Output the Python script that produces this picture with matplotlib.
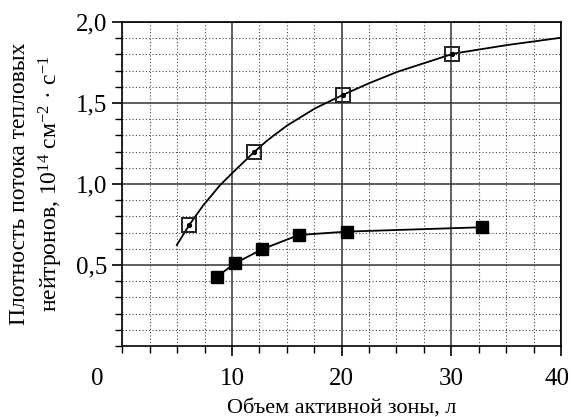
import matplotlib
matplotlib.use("Agg")
import matplotlib.pyplot as plt
from matplotlib.ticker import MultipleLocator, FixedLocator

plt.rcParams['font.family'] = ['Liberation Serif', 'DejaVu Serif']
plt.rcParams['mathtext.fontset'] = 'custom'
plt.rcParams['mathtext.rm'] = 'Liberation Serif'
plt.rcParams['mathtext.it'] = 'Liberation Serif:italic'
plt.rcParams['mathtext.bf'] = 'Liberation Serif:bold'

# Open squares (measured points, upper series)
open_x = [6.1, 12.0, 20.1, 30.1]
open_y = [0.747, 1.20, 1.55, 1.805]

# Smooth fitted curve for upper series
curve_x = [4.97, 6.1, 7.4, 8.93, 10.0, 12.0, 13.2, 15.0, 17.6, 20.2, 22.6, 25.1,
           30.2, 35.1, 40.0]
curve_y = [0.623, 0.747, 0.870, 0.994, 1.066, 1.196, 1.268, 1.36, 1.468, 1.553, 1.625,
           1.693, 1.805, 1.858, 1.903]

# Filled squares (lower series)
fill_x = [8.63, 10.27, 12.74, 16.09, 20.45, 32.8]
fill_y = [0.428, 0.51, 0.597, 0.685, 0.706, 0.733]

xticks = [10, 20, 30, 40]
xticklabels = ['10', '20', '30', '40']
yticks = [0.5, 1.0, 1.5, 2.0]
yticklabels = ['0,5', '1,0', '1,5', '2,0']

fig = plt.figure(figsize=(5.71, 4.17), dpi=100)
ax = fig.add_axes([0.2142, 0.1703, 0.9825 - 0.2142, 0.9472 - 0.1703])

ax.set_xlim(0, 40)
ax.set_ylim(0, 2.0)

# last x label is drawn separately (nudged inward so it stays inside the image)
ax.xaxis.set_major_locator(FixedLocator(xticks))
ax.set_xticklabels(xticklabels[:-1] + [''])
ax.xaxis.set_minor_locator(MultipleLocator(2.5))
ax.yaxis.set_major_locator(FixedLocator(yticks))
ax.set_yticklabels(yticklabels)
ax.yaxis.set_minor_locator(MultipleLocator(0.1))

ax.grid(which='major', color='#333333', linestyle='-', linewidth=1.1)
ax.grid(which='minor', color='#444444', linestyle=(0, (1, 2)), linewidth=0.8)
ax.set_axisbelow(True)

ax.tick_params(which='major', direction='out', length=7, width=1.2,
               labelsize=18, color='black')
ax.tick_params(which='minor', direction='out', length=5, width=1.0, color='black')
ax.tick_params(axis='x', which='major', pad=9)
ax.tick_params(axis='y', which='major', pad=4)

for s in ax.spines.values():
    s.set_linewidth(1.2)
    s.set_color('black')

ax.plot(curve_x, curve_y, color='black', linewidth=1.3, zorder=3)
ax.plot(open_x, open_y, linestyle='none', marker='s', markersize=10,
        markerfacecolor='none', markeredgecolor='#222222', markeredgewidth=1.4, zorder=4)
ax.plot(open_x, open_y, linestyle='none', marker='o', markersize=2.8,
        color='black', zorder=5)
ax.plot(fill_x, fill_y, color='black', linewidth=1.3, marker='s', markersize=8,
        markerfacecolor='black', markeredgecolor='black', zorder=4)

ax.annotate('0', xy=(0, 0), xycoords='axes fraction', xytext=(-18, -16),
            textcoords='offset points', ha='center', va='top', fontsize=18)
ax.annotate(xticklabels[-1], xy=(1, 0), xycoords='axes fraction', xytext=(-3, -16),
            textcoords='offset points', ha='center', va='top', fontsize=18)

ax.set_xlabel('Объем активной зоны, л', fontsize=16, labelpad=6)
fig.text(37 / 571, 1 - 184 / 417,
         'Плотность потока тепловых\nнейтронов, 10$^{14}$ см$^{-2}$ · с$^{-1}$',
         fontsize=17, linespacing=1.3, rotation=90, ha='center', va='center')

fig.savefig('out.png', dpi=100)
